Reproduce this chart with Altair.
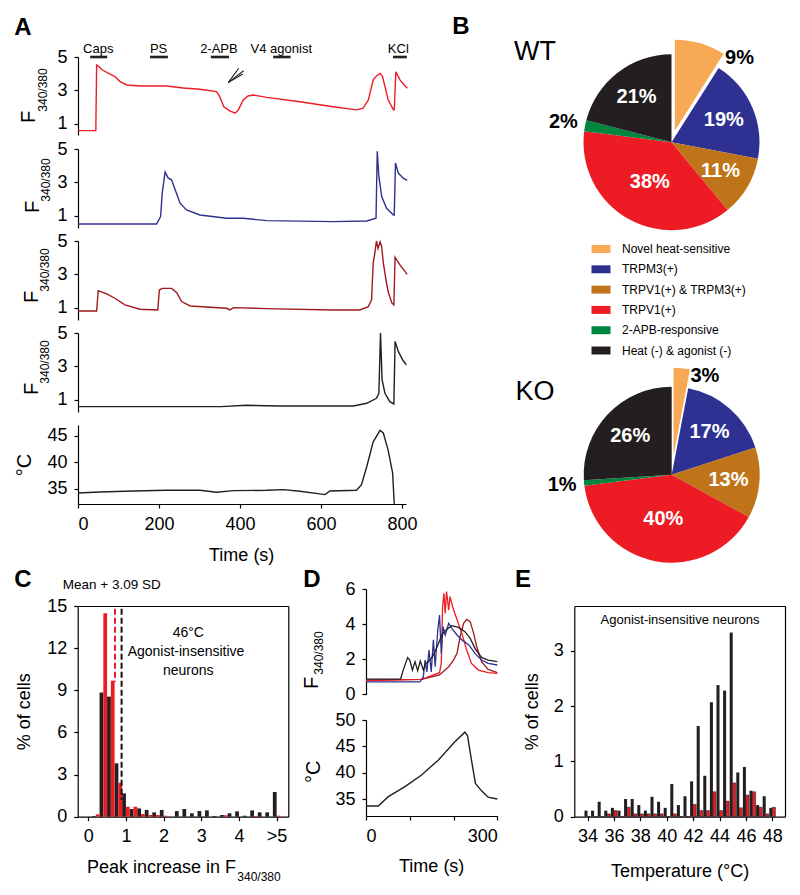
import altair as alt
import pandas as pd
import numpy as np

FONT = "Liberation Sans"
W, H = 784, 879
OX = OY = 8

# ---------------- data ----------------
# Panel A : example traces (time in s, F340/380 ratio) and bath temperature
a_red_t = [0, 44, 46, 52, 60, 91, 104, 120, 153, 219, 260, 301, 342, 350, 360, 375, 388, 396, 408, 420, 433,
           466, 548, 630, 688, 704, 717, 729, 737, 746, 752, 766, 779, 781, 785, 795, 813]
a_red_v = [0.6, 0.6, 4.52, 4.42, 4.22, 3.83, 3.53, 3.33, 3.27, 3.27, 3.15, 3.07, 2.93, 2.63, 2.03, 1.78, 1.64,
           1.84, 2.43, 2.67, 2.73, 2.59, 2.33, 2.03, 1.84, 1.94, 2.43, 3.63, 3.87, 4.02, 3.83, 2.43, 1.84, 1.84,
           4.12, 3.63, 3.13]
a_blue_t = [0, 194, 204, 208, 215, 223, 231, 240, 252, 268, 301, 367, 408, 466, 630, 713, 736, 739, 743, 750,
            762, 779, 781, 784, 791, 803, 813]
a_blue_v = [0.52, 0.52, 0.96, 2.36, 3.62, 3.26, 3.16, 2.56, 1.76, 1.36, 1.06, 0.86, 0.86, 0.72, 0.66, 0.70,
            0.86, 4.86, 3.36, 2.16, 1.46, 1.06, 1.06, 4.16, 3.56, 3.26, 3.12]
a_dred_t = [0, 46, 50, 71, 91, 116, 153, 197, 201, 208, 231, 244, 256, 277, 367, 375, 384, 466, 630, 696,
            717, 725, 729, 733, 737, 741, 746, 750, 754, 762, 766, 775, 780, 783, 795, 813]
a_dred_v = [0.82, 0.82, 2.03, 1.84, 1.58, 1.18, 0.92, 0.88, 2.07, 2.17, 2.17, 1.91, 1.38, 1.12, 0.98, 0.88,
            1.02, 0.96, 0.88, 0.88, 1.08, 1.48, 3.69, 4.27, 5.0, 4.55, 4.95, 4.65, 3.69, 2.47, 1.98, 1.30,
            1.18, 4.03, 3.57, 3.01]
a_blk_t = [0, 354, 415, 498, 680, 713, 737, 743, 747, 751, 758, 770, 780, 783, 791, 803, 811]
a_blk_v = [0.6, 0.6, 0.68, 0.64, 0.64, 0.8, 1.1, 1.4, 5.0, 2.2, 1.4, 0.9, 0.76, 4.5, 3.9, 3.34, 3.1]
a_tmp_t = [0, 54, 136, 218, 301, 342, 384, 466, 507, 548, 597, 610, 622, 688, 700, 713, 729, 746, 754, 766,
           777, 781]
a_tmp_v = [34.25, 34.44, 34.63, 34.75, 34.75, 34.38, 34.69, 34.75, 34.88, 34.57, 34.07, 33.94, 34.63, 34.75,
           35.8, 39.2, 43.9, 46.06, 45.56, 42.3, 38.0, 32.2]
stim_names = ["Caps", "PS", "2-APB", "V4 agonist", "KCl"]
stim_start = [30, 178, 328, 482, 778]
stim_end = [72, 222, 373, 525, 812]
stim_label_t = [50, 199, 348, 502, 791]
arrow_t0 = [371, 371, 371]
arrow_v0 = [3.47, 3.47, 3.47]
arrow_t1 = [397, 409, 407]
arrow_v1 = [4.33, 4.18, 3.99]

# Panel B : pies
cats = ["Novel heat-sensitive", "TRPM3(+)", "TRPV1(+) & TRPM3(+)", "TRPV1(+)",
        "2-APB-responsive", "Heat (-) & agonist (-)"]
pie_colors = ["#f7a955", "#2e3192", "#c0741a", "#ed1c24", "#00853f", "#231f20"]
wt_pct = [9, 19, 11, 38, 2, 21]
ko_pct = [3, 17, 13, 40, 1, 26]

# Panel C : histogram of peak increase (bin centres), black / red series
c_bins = [0.2, 0.4, 0.6, 0.8, 1.0, 1.2, 1.4, 1.6, 1.8, 2.0, 2.2, 2.4, 2.6, 2.8, 3.0, 3.2, 3.4, 3.6, 3.8,
          4.0, 4.2, 4.4, 4.6, 4.8, 5.0]
c_black = [0.05, 8.84, 8.55, 3.80, 1.66, 0.55, 0.59, 0.48, 0.31, 0.48, 0.0, 0.40, 0.55, 0.24, 0.40, 0.45,
           0.05, 0.12, 0.24, 0.38, 0.07, 0.45, 0.31, 0.31, 1.76]
c_red = [0.17, 14.49, 9.67, 2.42, 0.71, 0.71, 0.19, 0.12, 0.12, 0.07, 0, 0, 0, 0, 0, 0, 0, 0.1, 0, 0, 0,
         0.05, 0, 0, 0.07]
c_thr_x = [0.71, 0.885]
c_thr_top = [14.8, 14.8]
c_thr_bot = [9.6, 1.2]
c_thr_col = ["#ed1c24", "#111111"]
c_tick_vals = [0, 1, 2, 3, 4, 5]

# Panel D : heat ramp traces
d_blk_t = [0, 79, 85, 95, 100, 106, 112, 118, 124, 131, 137, 146, 154, 164, 173, 184, 196, 211, 226, 238,
           249, 264, 279, 300]
d_blk_v = [0.87, 0.87, 1.38, 2.1, 1.95, 1.38, 1.86, 1.35, 1.9, 1.38, 1.76, 1.95, 2.23, 2.8, 3.38, 3.7, 3.91,
           3.81, 3.57, 3.19, 2.62, 2.1, 1.95, 1.86]
d_blue_t = [0, 123, 131, 135, 139, 144, 149, 154, 158, 164, 168, 172, 176, 181, 189, 196, 208, 219, 235, 249,
            264, 279, 300]
d_blue_v = [0.71, 0.71, 0.99, 1.95, 1.28, 2.52, 1.28, 3.1, 1.57, 3.66, 4.52, 2.33, 3.85, 3.38, 4.05, 3.76,
            3.38, 3.1, 2.81, 2.33, 1.95, 1.76, 1.67]
d_red_t = [0, 127, 168, 172, 175, 178, 181, 184, 189, 192, 198, 203, 211, 219, 230, 241, 257, 279, 300]
d_red_v = [0.78, 0.85, 1.23, 1.76, 4.99, 5.76, 4.6, 5.86, 4.8, 5.57, 4.99, 4.6, 4.05, 3.47, 2.52, 1.76, 1.38,
           1.23, 1.19]
d_dred_t = [0, 127, 168, 189, 200, 208, 215, 223, 230, 238, 246, 253, 264, 279, 300]
d_dred_v = [0.81, 0.85, 1.1, 1.57, 1.95, 2.33, 3.28, 4.05, 4.27, 4.14, 3.47, 2.71, 1.86, 1.42, 1.23]
d_tmp_t = [0, 28, 51, 89, 127, 165, 203, 226, 232, 241, 250, 264, 279, 300]
d_tmp_v = [33.73, 33.73, 35.5, 37.4, 39.6, 42.4, 45.9, 47.7, 47.0, 42.4, 38.0, 36.6, 35.4, 35.06]

# Panel E : threshold temperature histogram (0.5 degC bins)
e_bins = [34.0, 34.5, 35.0, 35.5, 36.0, 36.5, 37.0, 37.5, 38.0, 38.5, 39.0, 39.5, 40.0, 40.5, 41.0, 41.5,
          42.0, 42.5, 43.0, 43.5, 44.0, 44.5, 45.0, 45.5, 46.0, 46.5, 47.0, 47.5, 48.0]
e_black = [0.11, 0.11, 0.27, 0.11, 0.16, 0.11, 0.32, 0.32, 0.21, 0.11, 0.36, 0.27, 0.16, 0.59, 0.21, 0.37,
           0.64, 1.64, 0.74, 2.07, 2.38, 2.28, 3.33, 0.80, 0.90, 0.47, 0.21, 0.37, 0.16]
e_red = [0, 0, 0, 0.05, 0.11, 0, 0.17, 0.05, 0.05, 0.05, 0.05, 0.05, 0, 0.05, 0, 0, 0.22, 0.11, 0.11, 0.45,
         0.11, 0.28, 0.61, 0.16, 0.39, 0.45, 0.17, 0.05, 0.17]

# ---------------- colours / styles ----------------
RED = "#ed1c24"
BLUE = "#2e3192"
DRED = "#9e1a1e"
BLK = "#231f20"

# panel geometry (page pixel positions)
GEOM = {
    "A1": dict(x=([0, 810], 78, 406), y=([0.34, 5], 135, 57)),
    "A2": dict(x=([0, 810], 78, 406), y=([0.28, 5], 228, 149)),
    "A3": dict(x=([0, 810], 78, 406), y=([0.28, 5], 320, 241)),
    "A4": dict(x=([0, 810], 78, 406), y=([0.28, 5], 412, 333)),
    "A5": dict(x=([0, 810], 78, 406), y=([32.17, 47.07], 504, 425)),
    "C": dict(x=([-0.28, 5.31], 77.7, 288.3), y=([0, 15], 816.7, 606)),
    "D1": dict(x=([0, 300], 366, 497.3), y=([0, 6], 694.3, 589)),
    "D2": dict(x=([0, 300], 366, 497.3), y=([31.84, 50], 816, 720)),
    "E": dict(x=([33.0, 48.96], 574.3, 785), y=([0, 3.81], 816.7, 606)),
}

AX = dict(grid=False, title=None, domainColor="#000", tickColor="#000", labelColor="#000",
          labelFont=FONT, labelFontSize=18, tickSize=4, labelPadding=7, domainWidth=1.2, tickWidth=1.2)


def yax(p, values):
    xpage = GEOM[p]["x"][1]
    return alt.Axis(orient="left", offset=-(xpage - OX), values=values, **AX)


def xax(p, values, **kw):
    ypage = GEOM[p]["y"][1]
    return alt.Axis(orient="bottom", offset=(ypage - OY) - H, values=values, **AX, **kw)


def top_frame(p):
    ypage = GEOM[p]["y"][2]
    return alt.Axis(orient="top", offset=-(ypage - OY), labels=False, ticks=False, grid=False, title=None,
                    domainColor="#000", domainWidth=1.2)


def right_frame(p):
    xpage = GEOM[p]["x"][2]
    return alt.Axis(orient="right", offset=(xpage - OX) - W, labels=False, ticks=False, grid=False,
                    title=None, domainColor="#000", domainWidth=1.2)


def X(p, field, axis=None):
    dom, lo, hi = GEOM[p]["x"]
    return alt.X(f"{field}:Q", scale=alt.Scale(domain=dom, range=[lo - OX, hi - OX], nice=False, zero=False),
                 axis=axis)


def Y(p, field, axis=None):
    dom, bot, top = GEOM[p]["y"]
    return alt.Y(f"{field}:Q", scale=alt.Scale(domain=dom, range=[bot - OY, top - OY], nice=False, zero=False),
                 axis=axis)


def T(text, x, y, size=18, bold=False, angle=0, align="center", color="#000", baseline="middle"):
    return alt.Chart(pd.DataFrame({"s": [text]})).mark_text(
        font=FONT, fontSize=size, fontWeight="bold" if bold else "normal",
        angle=angle, align=align, baseline=baseline, color=color
    ).encode(x=alt.value(x - OX), y=alt.value(y - OY), text="s:N")


def trace(p, t, v, color, width=1.4, xaxis=None, yaxis=None):
    df = pd.DataFrame({"t": t, "v": v, "i": list(range(len(t)))})
    return alt.Chart(df).mark_line(color=color, strokeWidth=width).encode(
        x=X(p, "t", xaxis), y=Y(p, "v", yaxis), order=alt.Order("i:Q"))


layers = []

# ---------------- Panel A ----------------
layers.append(trace("A1", a_red_t, a_red_v, RED, yaxis=yax("A1", [1, 3, 5])))
layers.append(trace("A2", a_blue_t, a_blue_v, BLUE, yaxis=yax("A2", [1, 3, 5])))
layers.append(trace("A3", a_dred_t, a_dred_v, DRED, yaxis=yax("A3", [1, 3, 5])))
layers.append(trace("A4", a_blk_t, a_blk_v, BLK, yaxis=yax("A4", [1, 3, 5])))
layers.append(trace("A5", a_tmp_t, a_tmp_v, BLK, xaxis=xax("A5", [0, 200, 400, 600, 800]),
                    yaxis=yax("A5", [35, 40, 45])))

stim = pd.DataFrame({"name": stim_names, "t0": stim_start, "t1": stim_end, "tl": stim_label_t})
layers.append(alt.Chart(stim).mark_rule(color=BLK, strokeWidth=2.6).encode(
    x=X("A1", "t0"), x2="t1:Q", y=alt.value(57 - OY)))
layers.append(alt.Chart(stim).mark_text(font=FONT, fontSize=13, baseline="middle").encode(
    x=X("A1", "tl"), y=alt.value(49 - OY), text="name:N"))
arrow = pd.DataFrame({"t0": arrow_t0, "v0": arrow_v0, "t1": arrow_t1, "v1": arrow_v1})
layers.append(alt.Chart(arrow).mark_rule(color=BLK, strokeWidth=1.1).encode(
    x=X("A1", "t0"), x2="t1:Q", y=Y("A1", "v0"), y2="v1:Q"))

for (fx, fy, sx_, sy_) in [(28.5, 117, 42.5, 90), (32.5, 207, 45.5, 180), (31.5, 297, 45, 270),
                           (32, 389, 45, 362)]:
    layers.append(T("F", fx, fy, size=20, angle=270))
    layers.append(T("340/380", sx_, sy_, size=12, angle=270))
layers.append(T("°C", 25, 465, size=20, angle=270))
layers.append(T("Time (s)", 241.7, 556, size=18))
layers.append(T("A", 23, 28, size=24, bold=True))

# ---------------- Panel B ----------------
def pie_layers(values, cx, cy, d_ex, r_ex):
    df = pd.DataFrame({"cat": cats, "val": values})
    df["end"] = df["val"].cumsum()
    df["start"] = df["end"] - df["val"]
    df["mid"] = (df["start"] + df["end"]) / 2
    df["lab"] = [f"{v}%" for v in values]
    th = alt.Scale(domain=[0, 100])
    col = alt.Color("cat:N", scale=alt.Scale(domain=cats, range=pie_colors), legend=None)
    first = df.iloc[:1]
    rest = df.iloc[1:]
    ang = np.deg2rad(first["mid"].iloc[0] * 3.6)
    ex, ey = cx + d_ex * np.sin(ang), cy - d_ex * np.cos(ang)
    out = [
        alt.Chart(rest).mark_arc(outerRadius=88).encode(
            theta=alt.Theta("start:Q", scale=th, stack=False), theta2="end:Q", color=col,
            x=alt.value(cx - OX), y=alt.value(cy - OY)),
        alt.Chart(first).mark_arc(outerRadius=r_ex).encode(
            theta=alt.Theta("start:Q", scale=th, stack=False), theta2="end:Q", color=col,
            x=alt.value(ex - OX), y=alt.value(ey - OY)),
    ]
    big = rest[rest["val"] >= 30]
    medium = rest[(rest["val"] >= 5) & (rest["val"] < 30)]
    small = rest[rest["val"] < 5]
    for sub, r, c in [(big, 45, "white"), (medium, 57, "white"), (small, 110, "#000")]:
        out.append(alt.Chart(sub).mark_text(radius=r, font=FONT, fontSize=20, fontWeight="bold", color=c,
                                            align="center", baseline="middle").encode(
            theta=alt.Theta("mid:Q", scale=th, stack=False), text="lab:N",
            x=alt.value(cx - OX), y=alt.value(cy - OY)))
    out.append(alt.Chart(first).mark_text(radius=100, font=FONT, fontSize=20, fontWeight="bold", color="#000",
                                          align="left", baseline="middle").encode(
        theta=alt.Theta("end:Q", scale=th, stack=False), text="lab:N",
        x=alt.value(cx - OX), y=alt.value(cy - OY)))
    return out


layers += pie_layers(wt_pct, 671.5, 142.2, 12, 91)
layers += pie_layers(ko_pct, 671.7, 474.7, 19, 88)
layers.append(T("WT", 535, 52, size=27))
layers.append(T("KO", 535, 392, size=27))
layers.append(T("B", 461, 27, size=24, bold=True))

leg = pd.DataFrame({"cat": cats})
leg_y = alt.Y("cat:N", scale=alt.Scale(type="point", domain=cats, range=[249 - OY, 350.5 - OY], padding=0),
              axis=None)
layers.append(alt.Chart(leg).mark_point(shape="M-1,-0.42H1V0.42H-1Z", filled=True, size=361, opacity=1,
                                        strokeWidth=0).encode(
    x=alt.value(601 - OX), y=leg_y,
    color=alt.Color("cat:N", scale=alt.Scale(domain=cats, range=pie_colors), legend=None)))
layers.append(alt.Chart(leg).mark_text(font=FONT, fontSize=12, align="left", baseline="middle").encode(
    x=alt.value(622 - OX), y=leg_y, text="cat:N"))

# ---------------- Panel C ----------------
cdf = pd.DataFrame({"c": c_bins, "black": c_black, "red": c_red})
cdf["b0"] = cdf["c"] - 0.1
cdf["r1"] = cdf["c"] + 0.1
layers.append(alt.Chart(cdf).mark_rect(color=BLK).encode(
    x=X("C", "b0", xax("C", c_tick_vals, labelExpr="datum.value == 5 ? '>5' : datum.label")), x2="c:Q",
    y=Y("C", "black", yax("C", [0, 3, 6, 9, 12, 15])), y2=alt.datum(0)))
layers.append(alt.Chart(cdf).mark_rect(color=RED).encode(
    x=X("C", "c"), x2="r1:Q", y=Y("C", "red"), y2=alt.datum(0)))
thr = pd.DataFrame({"x": c_thr_x, "y0": c_thr_top, "y1": c_thr_bot, "col": c_thr_col})
layers.append(alt.Chart(thr).mark_rule(strokeDash=[6, 3], strokeWidth=2).encode(
    x=X("C", "x"), y=Y("C", "y0"), y2="y1:Q", color=alt.Color("col:N", scale=None)))
layers.append(alt.Chart(cdf).mark_point(opacity=0).encode(
    x=X("C", "c", top_frame("C")), y=Y("C", "black", right_frame("C"))))
layers.append(T("C", 23, 580, size=24, bold=True))
layers.append(T("Mean + 3.09 SD", 111.7, 585, size=13.5))
layers.append(T("46°C", 188.3, 633, size=14))
layers.append(T("Agonist-insensitive", 186, 652.3, size=14))
layers.append(T("neurons", 188.3, 670.7, size=14))
layers.append(T("% of cells", 25, 711.7, size=18, angle=270))
layers.append(T("Peak increase in F", 161.5, 868, size=18))
layers.append(T("340/380", 259, 877, size=12))

# ---------------- Panel D ----------------
layers.append(trace("D1", d_dred_t, d_dred_v, DRED, width=1.3, yaxis=yax("D1", [0, 2, 4, 6])))
layers.append(trace("D1", d_red_t, d_red_v, RED, width=1.3))
layers.append(trace("D1", d_blue_t, d_blue_v, BLUE, width=1.3))
layers.append(trace("D1", d_blk_t, d_blk_v, BLK, width=1.3))
layers.append(trace("D2", d_tmp_t, d_tmp_v, BLK, width=1.4, xaxis=xax("D2", [0, 100, 200, 300]),
                    yaxis=yax("D2", [35, 40, 45, 50])))
layers.append(T("D", 312, 580, size=24, bold=True))
layers.append(T("F", 311.5, 683, size=20, angle=270))
layers.append(T("340/380", 318.5, 653, size=12, angle=270))
layers.append(T("°C", 313.5, 771.7, size=20, angle=270))
layers.append(T("Time (s)", 431.7, 866.7, size=18))

# ---------------- Panel E ----------------
edf = pd.DataFrame({"c": e_bins, "black": e_black, "red": e_red})
edf["b0"] = edf["c"] - 0.23
edf["r1"] = edf["c"] + 0.23
layers.append(alt.Chart(edf).mark_rect(color=BLK).encode(
    x=X("E", "b0", xax("E", [34, 36, 38, 40, 42, 44, 46, 48])), x2="c:Q",
    y=Y("E", "black", yax("E", [0, 1, 2, 3])), y2=alt.datum(0)))
layers.append(alt.Chart(edf).mark_rect(color=RED, stroke=BLK, strokeWidth=0.6).encode(
    x=X("E", "c"), x2="r1:Q", y=Y("E", "red"), y2=alt.datum(0)))
layers.append(alt.Chart(edf).mark_point(opacity=0).encode(
    x=X("E", "c", top_frame("E")), y=Y("E", "black", right_frame("E"))))
layers.append(T("E", 523, 580, size=24, bold=True))
layers.append(T("Agonist-insensitive neurons", 680, 620, size=13))
layers.append(T("% of cells", 533, 711.7, size=18, angle=270))
layers.append(T("Temperature (°C)", 680, 871.7, size=18))

chart = alt.layer(*layers).resolve_scale(
    x="independent", y="independent"
).properties(
    width=W, height=H, padding=0, background="white"
).configure_view(stroke=None)

chart.save("out.html", embed_options={"renderer": "svg", "actions": False})
